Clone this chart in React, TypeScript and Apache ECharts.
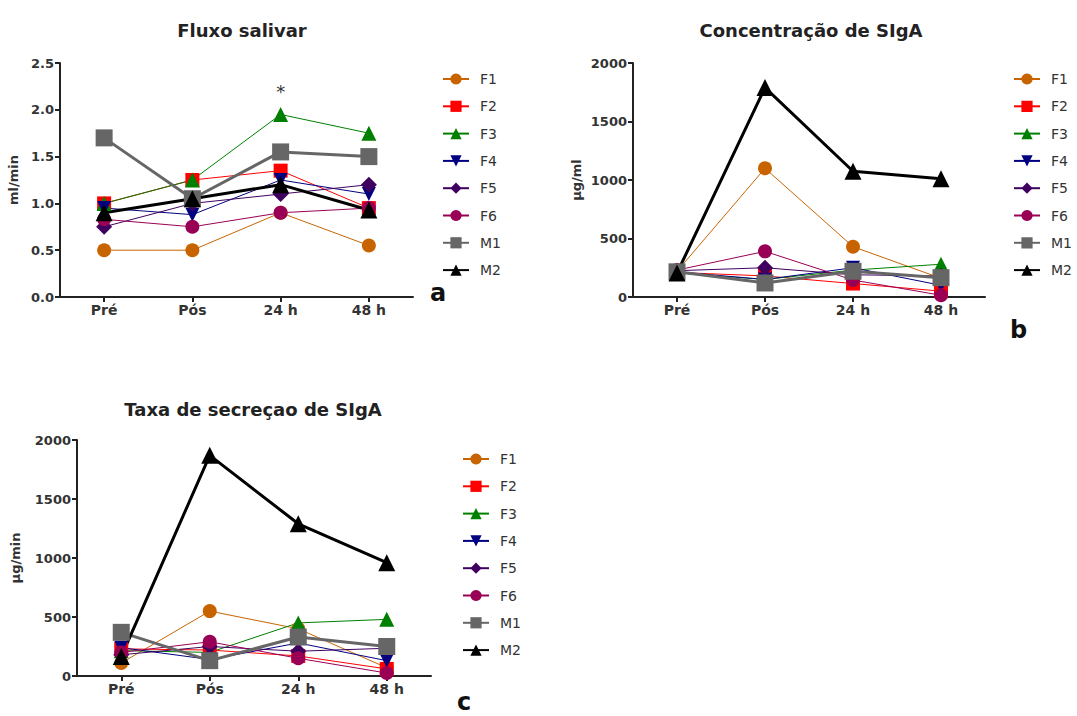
import React, { useEffect, useRef } from 'react';
import * as echarts from 'echarts';

const categories = ['Pré', 'Pós', '24 h', '48 h'];
const seriesNames = ['F1', 'F2', 'F3', 'F4', 'F5', 'F6', 'M1', 'M2'];

// Panel a: Fluxo salivar (ml/min)
const fluxoF1 = [0.5, 0.5, 0.9, 0.55];
const fluxoF2 = [1.0, 1.25, 1.35, 0.95];
const fluxoF3 = [1.0, 1.25, 1.95, 1.75];
const fluxoF4 = [0.95, 0.88, 1.25, 1.1];
const fluxoF5 = [0.75, 1.0, 1.1, 1.2];
const fluxoF6 = [0.83, 0.75, 0.9, 0.95];
const fluxoM1 = [1.7, 1.05, 1.55, 1.5];
const fluxoM2 = [0.9, 1.05, 1.2, 0.93];

// Panel b: Concentração de SIgA (µg/ml)
const concF1 = [220, 1100, 430, 160];
const concF2 = [210, 180, 115, 50];
const concF3 = [205, 150, 230, 280];
const concF4 = [215, 150, 250, 100];
const concF5 = [225, 250, 190, 180];
const concF6 = [230, 390, 145, 15];
const concM1 = [215, 120, 220, 165];
const concM2 = [205, 1790, 1075, 1010];

// Panel c: Taxa de secreção de SIgA (µg/min)
const taxaF1 = [110, 550, 400, 70];
const taxaF2 = [230, 220, 170, 60];
const taxaF3 = [215, 200, 450, 480];
const taxaF4 = [240, 140, 280, 130];
const taxaF5 = [180, 250, 210, 235];
const taxaF6 = [200, 290, 150, 25];
const taxaM1 = [370, 130, 330, 250];
const taxaM2 = [165, 1870, 1290, 960];

const fluxoData = [fluxoF1, fluxoF2, fluxoF3, fluxoF4, fluxoF5, fluxoF6, fluxoM1, fluxoM2];
const concData = [concF1, concF2, concF3, concF4, concF5, concF6, concM1, concM2];
const taxaData = [taxaF1, taxaF2, taxaF3, taxaF4, taxaF5, taxaF6, taxaM1, taxaM2];

const seriesStyles = [
  { color: '#C86400', symbol: 'circle', size: 14, width: 1, rotate: 0 },
  { color: '#FF0000', symbol: 'rect', size: 14, width: 1, rotate: 0 },
  { color: '#008000', symbol: 'triangle', size: 15, width: 1, rotate: 0 },
  { color: '#000080', symbol: 'triangle', size: 14, width: 1, rotate: 180 },
  { color: '#400060', symbol: 'diamond', size: 16, width: 1, rotate: 0 },
  { color: '#990055', symbol: 'circle', size: 14, width: 1, rotate: 0 },
  { color: '#666666', symbol: 'rect', size: 17, width: 3, rotate: 0 },
  { color: '#000000', symbol: 'triangle', size: 17, width: 3, rotate: 0 },
];

const FONT = 'DejaVu Sans, sans-serif';

function makeSeries(panel: number, data: number[][]) {
  return seriesNames.map((name, i) => {
    const s = seriesStyles[i];
    const ser: any = {
      type: 'line',
      name,
      xAxisIndex: panel,
      yAxisIndex: panel,
      data: data[i],
      symbol: s.symbol,
      symbolSize: s.size,
      symbolRotate: s.rotate,
      showAllSymbol: true,
      lineStyle: { color: s.color, width: s.width },
      itemStyle: { color: s.color },
      emphasis: { disabled: true },
    };
    if (panel === 0 && name === 'F3') {
      ser.markPoint = {
        symbol: 'circle',
        symbolSize: 1,
        itemStyle: { color: 'rgba(0,0,0,0)' },
        label: { show: true, formatter: '*', color: '#333', fontSize: 18, fontFamily: FONT, position: 'inside' },
        data: [{ coord: [2, 2.2] }],
      };
    }
    return ser;
  });
}

function xAxisOf(gridIndex: number) {
  return {
    type: 'category',
    gridIndex,
    data: categories,
    axisLine: { show: true, lineStyle: { color: '#222', width: 2 } },
    axisTick: { show: true, alignWithLabel: true, length: 5, lineStyle: { color: '#222', width: 2 } },
    axisLabel: { color: '#333', fontSize: 14, fontWeight: 'bold', fontFamily: FONT, margin: 6 },
    splitLine: { show: false },
  };
}

function yAxisOf(gridIndex: number, max: number, interval: number, name: string, nameGap: number, decimals: number) {
  return {
    type: 'value',
    gridIndex,
    min: 0,
    max,
    interval,
    name,
    nameLocation: 'middle',
    nameGap,
    nameTextStyle: { color: '#333', fontSize: 13, fontWeight: 'bold', fontFamily: FONT },
    axisLine: { show: true, lineStyle: { color: '#222', width: 2 } },
    axisTick: { show: true, length: 5, lineStyle: { color: '#222', width: 2 } },
    axisLabel: {
      color: '#333',
      fontSize: 13,
      fontWeight: 'bold',
      fontFamily: FONT,
      margin: 6,
      formatter: (v: number) => v.toFixed(decimals),
    },
    splitLine: { show: false },
  };
}

function legendOf(left: number, top: number) {
  return {
    orient: 'vertical',
    left,
    top,
    itemWidth: 26,
    itemHeight: 14,
    itemGap: 13.3,
    data: seriesNames,
    selectedMode: false,
    textStyle: { color: '#333', fontSize: 14, fontFamily: FONT, padding: [0, 0, 0, 6] },
  };
}

export default function App() {
  const ref = useRef<HTMLDivElement>(null);
  useEffect(() => {
    if (!ref.current) return;
    const chart = echarts.init(ref.current, undefined, { renderer: 'svg' });
    const titleStyle = { color: '#222', fontSize: 18, fontWeight: 'bold', fontFamily: FONT };
    chart.setOption({
      animation: false,
      backgroundColor: '#fff',
      textStyle: { fontFamily: FONT },
      title: [
        { text: 'Fluxo salivar', left: 237, top: 16, textAlign: 'center', textStyle: titleStyle },
        { text: 'Concentração de SIgA', left: 806, top: 16, textAlign: 'center', textStyle: titleStyle },
        { text: 'Taxa de secreçao de SIgA', left: 248, top: 395, textAlign: 'center', textStyle: titleStyle },
      ],
      grid: [
        { left: 60, top: 63, width: 353, height: 234 },
        { left: 633, top: 63, width: 352, height: 234 },
        { left: 77, top: 440, width: 354, height: 236 },
      ],
      xAxis: [xAxisOf(0), xAxisOf(1), xAxisOf(2)],
      yAxis: [
        yAxisOf(0, 2.5, 0.5, 'ml/min', 40, 1),
        yAxisOf(1, 2000, 500, 'µg/ml', 50, 0),
        yAxisOf(2, 2000, 500, 'µg/min', 55, 0),
      ],
      legend: [legendOf(437, 67), legendOf(1008, 67), legendOf(457, 447)],
      series: [
        ...makeSeries(0, fluxoData),
        ...makeSeries(1, concData),
        ...makeSeries(2, taxaData),
      ],
      graphic: [
        { type: 'text', left: 430, top: 281, style: { text: 'a', fontSize: 24, fontWeight: 'bold', fontFamily: FONT, fill: '#111' } },
        { type: 'text', left: 1010, top: 318, style: { text: 'b', fontSize: 24, fontWeight: 'bold', fontFamily: FONT, fill: '#111' } },
        { type: 'text', left: 457, top: 690, style: { text: 'c', fontSize: 24, fontWeight: 'bold', fontFamily: FONT, fill: '#111' } },
      ],
    });
    return () => chart.dispose();
  }, []);
  return (
    <div style={{ position: 'absolute', left: 0, top: 0, width: 1077, height: 716, background: '#fff' }}>
      <div ref={ref} style={{ width: 1077, height: 716 }} />
    </div>
  );
}
